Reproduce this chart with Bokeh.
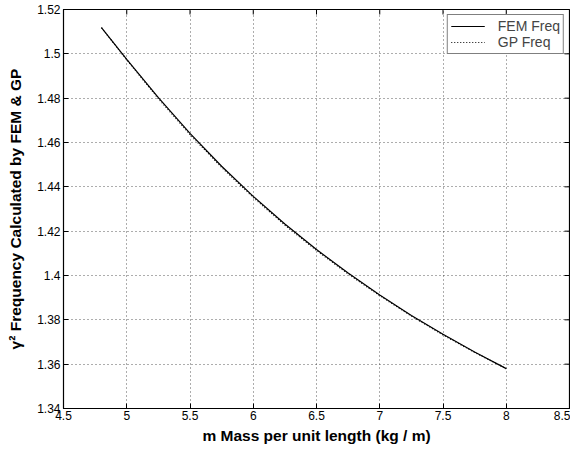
import math
from bokeh.plotting import figure
from bokeh.models import FixedTicker, Range1d, Legend, LegendItem
from bokeh.embed import file_html
from bokeh.resources import INLINE

# ---- data ----
mass = [4.8, 5.0, 5.25, 5.5, 5.75, 6.0, 6.25, 6.5, 6.75, 7.0, 7.25, 7.5, 7.75, 8.0]
fem_freq = [1.5118, 1.4975, 1.4802, 1.4641, 1.4493, 1.4357, 1.4232, 1.4117,
            1.4011, 1.3912, 1.3820, 1.3735, 1.3655, 1.3580]
gp_freq = [1.5118, 1.4973, 1.4798, 1.4636, 1.4488, 1.4352, 1.4227, 1.4113,
           1.4007, 1.3909, 1.3817, 1.3732, 1.3653, 1.3580]

x_ticks = [4.5, 5.0, 5.5, 6.0, 6.5, 7.0, 7.5, 8.0, 8.5]
x_tick_labels = ["4.5", "5", "5.5", "6", "6.5", "7", "7.5", "8", "8.5"]
y_ticks = [1.34, 1.36, 1.38, 1.40, 1.42, 1.44, 1.46, 1.48, 1.50, 1.52]
y_tick_labels = ["1.34", "1.36", "1.38", "1.4", "1.42", "1.44", "1.46", "1.48", "1.5", "1.52"]

x_title = "m Mass per unit length (kg / m)"
y_title = "\u03b3\u00b2 Frequency Calculated by FEM & GP"
series_names = ["FEM Freq", "GP Freq"]

FONT = "Liberation Sans"

p = figure(width=570, height=450,
           x_range=Range1d(x_ticks[0], x_ticks[-1]),
           y_range=Range1d(y_ticks[0], y_ticks[-1]),
           output_backend="svg", toolbar_location=None,
           min_border_left=63, min_border_right=1, min_border_top=9,
           min_border_bottom=42)

p.background_fill_color = "white"
p.border_fill_color = "white"
p.outline_line_color = "black"
p.outline_line_width = 1.2

# axes
xa = p.xaxis[0]
ya = p.yaxis[0]
xa.ticker = FixedTicker(ticks=x_ticks)
ya.ticker = FixedTicker(ticks=y_ticks)
xa.major_label_overrides = {t: l for t, l in zip(x_ticks, x_tick_labels)}
ya.major_label_overrides = {t: l for t, l in zip(y_ticks, y_tick_labels)}
for ax in (xa, ya):
    ax.major_tick_in = 5
    ax.major_tick_out = 0
    ax.minor_tick_in = 0
    ax.minor_tick_out = 0
    ax.major_tick_line_color = "black"
    ax.axis_line_color = "black"
    ax.major_label_text_font = FONT
    ax.major_label_text_font_size = "12px"
    ax.major_label_text_color = "black"
    ax.axis_label_text_font = FONT
    ax.axis_label_text_font_size = "15.5px"
    ax.axis_label_text_font_style = "bold"
    ax.axis_label_text_color = "black"
xa.major_label_standoff = 2
xa.axis_label_standoff = 4
ya.major_label_standoff = 3
ya.axis_label_standoff = 10
xa.axis_label = x_title
ya.axis_label = y_title

# grid
p.xgrid.ticker = FixedTicker(ticks=x_ticks)
p.ygrid.ticker = FixedTicker(ticks=y_ticks)
for g in (p.xgrid, p.ygrid):
    g.grid_line_color = "#333333"
    g.grid_line_dash = "1 3"
    g.grid_line_width = 1
    g.grid_line_alpha = 0.8

# mirrored inward ticks on the top and right frame edges (half clipped by frame)
p.scatter(x_ticks, [y_ticks[-1]] * len(x_ticks), marker="dash", size=10,
          angle=math.pi / 2, line_color="black", line_width=1)
p.scatter([x_ticks[-1]] * len(y_ticks), y_ticks, marker="dash", size=10,
          line_color="black", line_width=1)

r1 = p.line(mass, fem_freq, line_color="black", line_width=1.2)
r2 = p.line(mass, gp_freq, line_color="black", line_width=1.2, line_dash="1 2")

legend = Legend(items=[LegendItem(label=series_names[0], renderers=[r1]),
                       LegendItem(label=series_names[1], renderers=[r2])],
                location="top_right")
legend.border_line_color = "black"
legend.border_line_width = 1
legend.background_fill_color = "white"
legend.background_fill_alpha = 1
legend.margin = 5
legend.padding = 3
legend.spacing = 0
legend.glyph_width = 34
legend.label_standoff = 13
legend.label_text_font = FONT
legend.label_text_font_size = "14px"
legend.label_height = 14
legend.glyph_height = 14
p.add_layout(legend)

open("out.html", "w").write(file_html(p, INLINE))
